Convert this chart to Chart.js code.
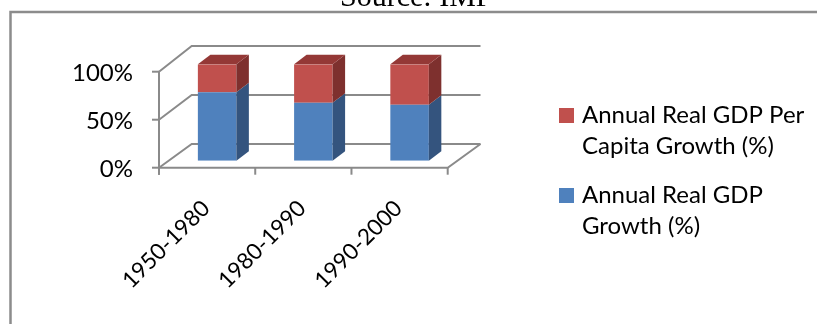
<!DOCTYPE html>
<html>
<head>
<meta charset="utf-8">
<script src="https://cdn.jsdelivr.net/npm/chart.js@4/dist/chart.umd.min.js"></script>
<style>
  html, body { margin: 0; padding: 0; background: #ffffff; }
  #wrap { width: 817px; height: 324px; }
</style>
</head>
<body>
<div id="wrap"><canvas id="c" width="817" height="324"></canvas></div>
<script>
// ---- data ----
const categories = ['1950-1980', '1980-1990', '1990-2000'];
const gdpGrowthShare = [71, 60, 58];        // Annual Real GDP Growth (%) share of stack
const perCapitaShare = [29, 40, 42];        // Annual Real GDP Per Capita Growth (%) share of stack
const yTickValues = [0, 50, 100];
const yTickLabels = ['0%', '50%', '100%'];
const seriesNames = ['Annual Real GDP Growth (%)', 'Annual Real GDP Per Capita Growth (%)'];
const legendLinesGdp = ['Annual Real GDP', 'Growth (%)'];
const legendLinesPerCapita = ['Annual Real GDP Per', 'Capita Growth (%)'];
const sourceText = 'Source: IMF';

// ---- styles ----
const blueFront = '#4F81BD', blueSide = '#34547E';
const redFront = '#C0504D', redSide = '#7E302E', redTop = '#943836';
const gridColor = '#8a8a8a';
const labelFont = '24px Lato, "Open Sans", sans-serif';
const xLabelFont = '22.5px Lato, "Open Sans", sans-serif';

const threeD = {
  id: 'threeD',
  beforeDatasetsDraw(chart) {
    const ctx = chart.ctx, ca = chart.chartArea;
    const ys = chart.scales.y, xs = chart.scales.x;
    const yFront = v => ys.getPixelForValue(v) + 7.0 + 0.4 * v / 100;
    const yBack = v => ys.getPixelForValue(v) - 16.7 - 1.6 * v / 100;
    const fl = ca.left - 10, fr = ca.right - 10;
    const bl = ca.left + 22.7, br = ca.right + 22.8;
    ctx.save();
    // outer frame
    ctx.strokeStyle = '#8c8c8c';
    ctx.lineWidth = 2.5;
    ctx.beginPath();
    ctx.moveTo(10.5, 330); ctx.lineTo(10.5, 12); ctx.lineTo(830, 12);
    ctx.stroke();
    // source text
    ctx.fillStyle = '#000';
    ctx.font = '30px "Liberation Serif", "DejaVu Serif", serif';
    ctx.textAlign = 'left';
    ctx.textBaseline = 'alphabetic';
    ctx.fillText(sourceText, 340, 5.5);
    // walls
    ctx.strokeStyle = gridColor;
    ctx.lineWidth = 2;
    ctx.lineCap = 'butt';
    yTickValues.forEach(v => {
      ctx.beginPath();
      ctx.moveTo(fl, yFront(v)); ctx.lineTo(bl, yBack(v)); ctx.lineTo(br, yBack(v));
      ctx.stroke();
    });
    // floor front edge + right diagonal
    ctx.beginPath();
    ctx.moveTo(fl, yFront(0)); ctx.lineTo(fr, yFront(0)); ctx.lineTo(br, yBack(0));
    ctx.stroke();
    // front vertical axis
    ctx.beginPath();
    ctx.moveTo(fl, yFront(100)); ctx.lineTo(fl, yFront(0) + 7);
    ctx.stroke();
    // y tick marks
    yTickValues.forEach(v => {
      ctx.beginPath(); ctx.moveTo(fl - 7, yFront(v)); ctx.lineTo(fl, yFront(v)); ctx.stroke();
    });
    // x tick marks
    const n = categories.length;
    for (let i = 0; i <= n; i++) {
      const x = fl + i * (fr - fl) / n;
      ctx.beginPath(); ctx.moveTo(x, yFront(0)); ctx.lineTo(x, yFront(0) + 7); ctx.stroke();
    }
    // y labels
    ctx.fillStyle = '#000';
    ctx.font = labelFont;
    ctx.textAlign = 'right';
    ctx.textBaseline = 'middle';
    yTickValues.forEach((v, i) => ctx.fillText(yTickLabels[i], 133, yFront(v) + 2));
    // x labels (rotated)
    ctx.font = xLabelFont;
    ctx.textAlign = 'right';
    ctx.textBaseline = 'alphabetic';
    categories.forEach((c, i) => {
      const cx = xs.getPixelForValue(i) - 10;
      ctx.save();
      ctx.translate(cx + 4, yFront(0) + 42);
      ctx.rotate(-Math.PI / 4);
      ctx.fillText(c, 0, 0);
      ctx.restore();
    });
    ctx.restore();
  },
  afterDatasetsDraw(chart) {
    const ctx = chart.ctx;
    const dx = 12.5, dy = -9.5;
    const sides = [blueSide, redSide];
    ctx.save();
    chart.data.datasets.forEach((ds, di) => {
      const meta = chart.getDatasetMeta(di);
      meta.data.forEach(el => {
        const p = el.getProps(['x', 'y', 'base', 'width'], true);
        const xl = p.x - p.width / 2, xr = p.x + p.width / 2;
        ctx.fillStyle = sides[di];
        ctx.beginPath();
        ctx.moveTo(xr, p.y); ctx.lineTo(xr + dx, p.y + dy);
        ctx.lineTo(xr + dx, p.base + dy); ctx.lineTo(xr, p.base);
        ctx.closePath(); ctx.fill();
        if (di === chart.data.datasets.length - 1) {
          ctx.fillStyle = redTop;
          ctx.beginPath();
          ctx.moveTo(xl, p.y); ctx.lineTo(xl + dx, p.y + dy);
          ctx.lineTo(xr + dx, p.y + dy); ctx.lineTo(xr, p.y);
          ctx.closePath(); ctx.fill();
        }
      });
    });
    // legend
    ctx.font = labelFont;
    ctx.textAlign = 'left';
    ctx.textBaseline = 'alphabetic';
    const items = [
      { color: chart.data.datasets[1].backgroundColor, lines: legendLinesPerCapita, base: 123 },
      { color: chart.data.datasets[0].backgroundColor, lines: legendLinesGdp, base: 203 }
    ];
    items.forEach(it => {
      ctx.fillStyle = it.color;
      ctx.fillRect(559, it.base - 15, 15, 15);
      ctx.fillStyle = '#000';
      it.lines.forEach((ln, k) => ctx.fillText(ln, 582, it.base + k * 31));
    });
    ctx.restore();
  }
};

function draw() {
  new Chart(document.getElementById('c'), {
    type: 'bar',
    data: {
      labels: categories,
      datasets: [
        { label: seriesNames[0], data: gdpGrowthShare, backgroundColor: blueFront, borderWidth: 0 },
        { label: seriesNames[1], data: perCapitaShare, backgroundColor: redFront, borderWidth: 0 }
      ]
    },
    options: {
      responsive: false,
      animation: false,
      devicePixelRatio: 1,
      layout: { padding: { left: 169, top: 64.3, right: 359.3, bottom: 163.3 } },
      datasets: { bar: { categoryPercentage: 1, barPercentage: 0.4 } },
      plugins: { legend: { display: false }, tooltip: { enabled: false }, title: { display: false } },
      scales: {
        x: { display: false, stacked: true },
        y: { display: false, stacked: true, min: 0, max: 100, ticks: { stepSize: 50 } }
      }
    },
    plugins: [threeD]
  });
}
if (document.fonts && document.fonts.load) {
  Promise.all([
    document.fonts.load('24px Lato'),
    document.fonts.load('30px "Liberation Serif"')
  ]).then(draw, draw);
} else { draw(); }
</script>
</body>
</html>
